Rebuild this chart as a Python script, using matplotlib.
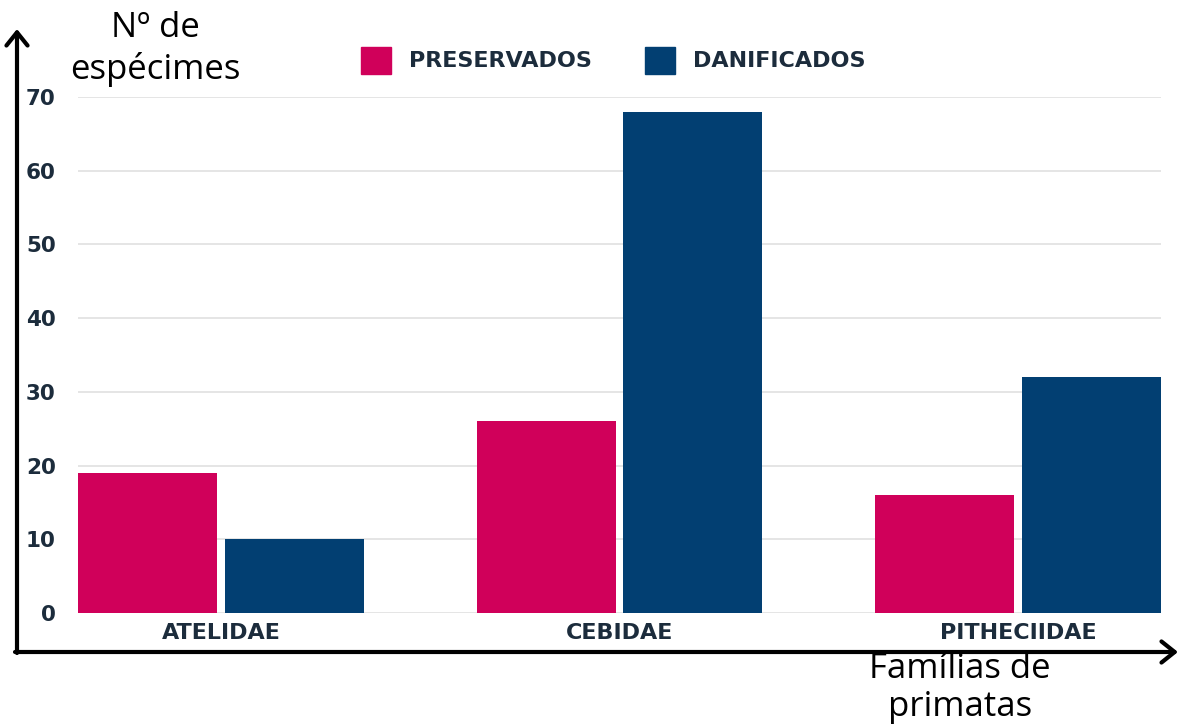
import numpy as np
import matplotlib
matplotlib.use("Agg")
import matplotlib.pyplot as plt
from matplotlib.patches import Patch, FancyArrowPatch

# data
familias = ["ATELIDAE", "CEBIDAE", "PITHECIIDAE"]
preservados = [19, 26, 16]
danificados = [10, 68, 32]
yticks = [0, 10, 20, 30, 40, 50, 60, 70]

PINK = "#d0005a"
NAVY = "#023f72"
TEXT = "#1c2c3c"
GRID = "#e3e3e3"
FONT = "DejaVu Sans"

fig = plt.figure(figsize=(11.81, 7.24), dpi=100)
fig.patch.set_facecolor("white")
ax = fig.add_axes([0.066, 0.1533, 0.917, 0.7127])

x = np.arange(len(familias))
w = 0.349
off = 0.184
ax.bar(x - off, preservados, width=w, color=PINK, zorder=2)
ax.bar(x + off, danificados, width=w, color=NAVY, zorder=2)

ax.set_xlim(-0.359, 2.359)
ax.set_ylim(0, 70)
ax.set_yticks(yticks)
ax.set_xticks(x)
ax.set_xticklabels(familias)
ax.grid(axis="y", color=GRID, linewidth=1.3, zorder=0)
ax.tick_params(length=0)
ax.tick_params(axis="y", pad=16)
ax.tick_params(axis="x", pad=7)
for lbl in ax.get_yticklabels() + ax.get_xticklabels():
    lbl.set_family(FONT)
    lbl.set_weight("bold")
    lbl.set_color(TEXT)
for lbl in ax.get_yticklabels():
    lbl.set_fontsize(15.5)
for lbl in ax.get_xticklabels():
    lbl.set_fontsize(16)
for s in ax.spines.values():
    s.set_visible(False)

# legend
handles = [Patch(color=PINK, label="PRESERVADOS"), Patch(color=NAVY, label="DANIFICADOS")]
leg = fig.legend(handles=handles, loc="center", bbox_to_anchor=(0.5195, 0.917), ncol=2,
                 frameon=False, handlelength=1.35, handleheight=1.5, handletextpad=0.8,
                 columnspacing=2.4, prop={"family": FONT, "weight": "bold", "size": 16})
for t in leg.get_texts():
    t.set_color(TEXT)

# axes drawn as arrows
arrow = dict(arrowstyle="->,head_length=0.5,head_width=0.4", color="black", lw=3,
             shrinkA=0, shrinkB=0, mutation_scale=19, transform=fig.transFigure)
fig.add_artist(FancyArrowPatch((17 / 1181, 1 - 653 / 724), (17 / 1181, 1 - 29 / 724), **arrow))
fig.add_artist(FancyArrowPatch((15 / 1181, 1 - 652 / 724), (1178 / 1181, 1 - 652 / 724), **arrow))

fig.text(155 / 1181, 1 - 49 / 724, "Nº de\nespécimes", ha="center", va="center",
         fontsize=25, family="Open Sans", linespacing=1.25, color="black")
fig.text(960 / 1181, 1 - 688 / 724, "Famílias de\nprimatas", ha="center", va="center",
         fontsize=25, family="Open Sans", linespacing=1.18, color="black")

fig.savefig("out.png", dpi=100)
